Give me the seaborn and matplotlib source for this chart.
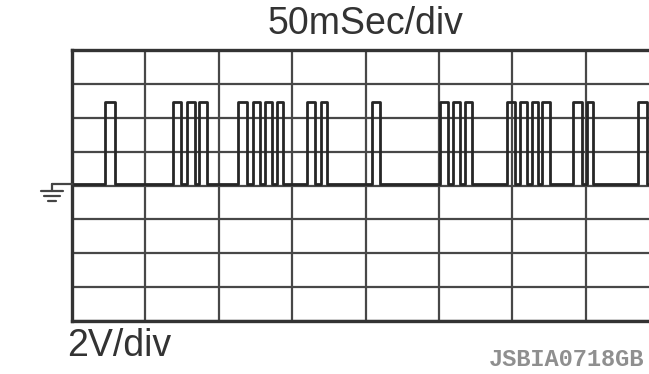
import numpy as np
import pandas as pd
import matplotlib
matplotlib.use("Agg")
import matplotlib.pyplot as plt
from matplotlib.lines import Line2D
import seaborn as sns

# Pulse train (time in ms, 50 ms per division)
pulse_start = [22.5, 68.8, 78.3, 86.5, 113.1, 123.3, 131.5, 139.6, 160.1, 169.6,
               204.4, 250.7, 259.5, 267.7, 296.3, 305.2, 313.4, 320.2, 341.3, 350.8, 385.6]
pulse_end = [29.3, 74.4, 83.8, 92.0, 119.2, 128.1, 136.2, 143.7, 165.5, 173.7,
             209.8, 256.1, 264.3, 272.5, 301.8, 310.0, 317.4, 325.6, 347.4, 354.9, 391.7]
high_level = 4.95  # volts
low_level = 0.08   # volts
t_begin, t_finish = 0.0, 500.0

x_ticks = [0, 50, 100, 150, 200, 250, 300, 350, 400, 450, 500]
y_ticks = [-8, -6, -4, -2, 0, 2, 4, 6, 8]

title_text = "50mSec/div"
volt_text = "2V/div"
code_text = "JSBIA0718GB"

# build the square-wave polyline
t = [t_begin]
v = [low_level]
for s, e in zip(pulse_start, pulse_end):
    t += [s, s, e, e]
    v += [low_level, high_level, high_level, low_level]
t.append(t_finish)
v.append(low_level)
df = pd.DataFrame({"t": t, "v": v})

sns.set_style("white")
W, H = 649, 374
fig = plt.figure(figsize=(W / 100, H / 100), dpi=100)

left_px, top_px, bottom_px = 72, 50, 321
div_px = 73.4
ax = fig.add_axes([left_px / W, 1 - bottom_px / H,
                   10 * div_px / W, (bottom_px - top_px) / H])

sns.lineplot(data=df, x="t", y="v", estimator=None, sort=False,
             color="#262626", lw=2.0, ax=ax)

ax.set_xlim(x_ticks[0], x_ticks[-1])
ax.set_ylim(y_ticks[0], y_ticks[-1])
ax.set_xticks(x_ticks)
ax.set_yticks(y_ticks)
ax.tick_params(length=0, labelbottom=False, labelleft=False)
ax.set_xlabel("")
ax.set_ylabel("")
ax.grid(True, color="#474747", lw=1.6)
ax.set_axisbelow(True)
for sp in ax.spines.values():
    sp.set_visible(True)
    sp.set_color("#333333")
    sp.set_linewidth(2.4)

# texts
fig.text(365 / W, 1 - 24 / H, title_text, ha="center", va="center",
         fontsize=27, color="#333333", family="Liberation Sans")
fig.text(67 / W, 1 - 346 / H, volt_text, ha="left", va="center",
         fontsize=27, color="#333333", family="Liberation Sans")
fig.text(644 / W, 1 - 360 / H, code_text, ha="right", va="center",
         fontsize=17, color="#8f8f8f", family="Liberation Mono", weight="bold")

# ground marker (left of the trace)
def px_line(x0, y0, x1, y1, lw=1.6, c="#444444"):
    fig.add_artist(Line2D([x0 / W, x1 / W], [1 - y0 / H, 1 - y1 / H],
                          transform=fig.transFigure, color=c, lw=lw))

px_line(52, 184, 72, 184)
px_line(52, 184, 52, 191)
px_line(41, 191, 63, 191)
px_line(44, 196, 60, 196)
px_line(48, 201, 56, 201)

fig.savefig("out.png", dpi=100, facecolor="white")
